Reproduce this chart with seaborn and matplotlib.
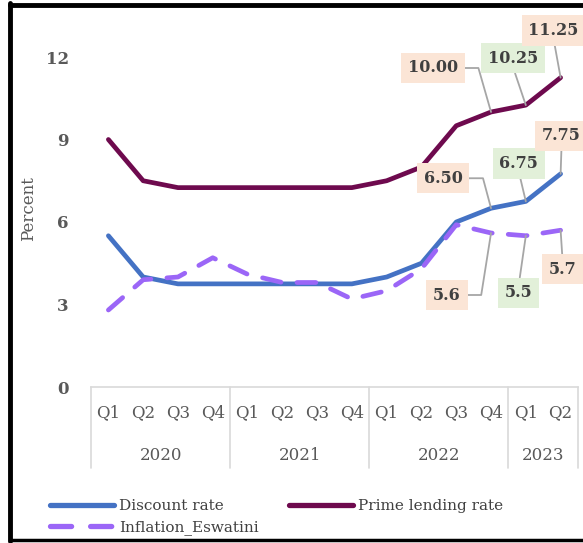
import matplotlib
matplotlib.use("Agg")
import matplotlib.pyplot as plt
import seaborn as sns
import pandas as pd
from matplotlib.lines import Line2D

quarters = ["Q1", "Q2", "Q3", "Q4", "Q1", "Q2", "Q3", "Q4", "Q1", "Q2", "Q3", "Q4", "Q1", "Q2"]
years = ["2020", "2021", "2022", "2023"]
year_quarter_counts = [4, 4, 4, 2]
discount = [5.5, 4.0, 3.75, 3.75, 3.75, 3.75, 3.75, 3.75, 4.0, 4.5, 6.0, 6.5, 6.75, 7.75]
prime = [9.0, 7.5, 7.25, 7.25, 7.25, 7.25, 7.25, 7.25, 7.5, 8.0, 9.5, 10.0, 10.25, 11.25]
inflation = [2.8, 3.9, 4.0, 4.7, 4.1, 3.8, 3.8, 3.2, 3.5, 4.3, 5.9, 5.6, 5.5, 5.7]
series_names = ["Discount rate", "Prime lending rate", "Inflation_Eswatini"]
colors = {"Discount rate": "#4472C4", "Prime lending rate": "#6E0A4E", "Inflation_Eswatini": "#9B66F7"}

sns.set_style("white")
plt.rcParams["font.family"] = ["DejaVu Serif"]

n = len(quarters)
df = pd.DataFrame({
    "idx": list(range(n)) * 3,
    "value": discount + prime + inflation,
    "series": [series_names[0]] * n + [series_names[1]] * n + [series_names[2]] * n,
})

fig = plt.figure(figsize=(5.83, 5.43), dpi=100)
ax = fig.add_axes([91 / 583, 1 - 387 / 543, 487 / 583, (387 - 29.5) / 543])

sns.lineplot(data=df, x="idx", y="value", hue="series", style="series",
             palette=colors,
             dashes={"Discount rate": "", "Prime lending rate": "", "Inflation_Eswatini": (4, 3.4)},
             linewidth=3.4, legend=False, ax=ax)
for ln in ax.lines:
    ln.set_solid_capstyle("round")
    ln.set_dash_capstyle("round")

ax.set_xlim(-0.5, n - 0.5)
ax.set_ylim(0, 13)
ax.set_yticks([0, 3, 6, 9, 12])
ax.set_yticklabels(["0", "3", "6", "9", "12"], fontweight="bold", fontsize=12, color="#595959")
ax.tick_params(axis="y", length=0, pad=16)
ax.set_xticks([])
ax.set_xlabel("")
ax.set_ylabel("Percent", fontsize=12, color="#595959", labelpad=6)
for s in ["top", "right", "left"]:
    ax.spines[s].set_visible(False)
ax.spines["bottom"].set_color("#D9D9D9")
ax.spines["bottom"].set_linewidth(1.2)

# category table below axis
grid_c = "#D9D9D9"
trans = ax.get_xaxis_transform()
bounds = [-0.5]
for c in year_quarter_counts:
    bounds.append(bounds[-1] + c)
for b in bounds:
    ax.plot([b, b], [0, -81 / 357.5], color=grid_c, lw=1.2, transform=trans, clip_on=False)
for i, q in enumerate(quarters):
    ax.text(i, -26 / 357.5, q, transform=trans, ha="center", va="center",
            fontsize=12, color="#595959")
for k, y in enumerate(years):
    ax.text((bounds[k] + bounds[k + 1]) / 2, -68 / 357.5, y, transform=trans,
            ha="center", va="center", fontsize=12, color="#595959")

# data labels
peach = "#FBE5D6"
green = "#E2F0D9"
lab_specs = [
    (prime, 11, "10.00", (-58, 44), peach, "angle,angleA=0,angleB=106,rad=0", (1, 0.5)),
    (prime, 12, "10.25", (-13, 47), green, "arc3", (0.5, 0)),
    (prime, 13, "11.25", (-7, 47), peach, "arc3", (0.5, 0)),
    (discount, 11, "6.50", (-48, 30), peach, "angle,angleA=0,angleB=105,rad=0", (1, 0.5)),
    (discount, 12, "6.75", (-7, 38), green, "arc3", (0.5, 0)),
    (discount, 13, "7.75", (1, 38), peach, "arc3", (0.5, 0)),
    (inflation, 11, "5.6", (-44, -62), peach, "angle,angleA=0,angleB=261,rad=0", (1, 0.5)),
    (inflation, 12, "5.5", (-7, -57), green, "arc3", (0.5, 1)),
    (inflation, 13, "5.7", (2, -39), peach, "arc3", (0.5, 1)),
]
for ser, i, txt, off, bc, cs, rp in lab_specs:
    ax.annotate(txt, xy=(i, ser[i]), xytext=off, textcoords="offset pixels",
                ha="center", va="center", fontsize=11.5, fontweight="bold", color="#404040",
                bbox=dict(boxstyle="square,pad=0.42", fc=bc, ec="none"),
                arrowprops=dict(arrowstyle="-", color="#A6A6A6", lw=1.3,
                                connectionstyle=cs, shrinkA=0, shrinkB=0, relpos=rp),
                annotation_clip=False)

# legend
handles = [
    Line2D([0], [0], color=colors["Discount rate"], lw=3.8, solid_capstyle="round"),
    Line2D([0], [0], color=colors["Inflation_Eswatini"], lw=3.8, ls=(0, (4, 3.6)), dash_capstyle="round"),
    Line2D([0], [0], color=colors["Prime lending rate"], lw=3.8, solid_capstyle="round"),
]
labels = ["Discount rate", "Inflation_Eswatini", "Prime lending rate"]
fig.legend(handles, labels, ncol=2, loc="upper left", bbox_to_anchor=(50 / 583, 1 - 499 / 543),
           frameon=False, fontsize=11, handlelength=4.2, handletextpad=0.3,
           columnspacing=2.0, labelspacing=0.45, borderaxespad=0, borderpad=0,
           labelcolor="#404040")

# black frame (left, top, bottom)
fig.add_artist(Line2D([10 / 583, 10 / 583], [1 - 3 / 543, 1 - 541 / 543], color="black", lw=3.5, transform=fig.transFigure))
fig.add_artist(Line2D([10 / 583, 1], [1 - 5 / 543, 1 - 5 / 543], color="black", lw=3.5, transform=fig.transFigure))
fig.add_artist(Line2D([10 / 583, 1], [1 - 540 / 543, 1 - 540 / 543], color="black", lw=2.5, transform=fig.transFigure))

fig.savefig("out.png", dpi=100)
